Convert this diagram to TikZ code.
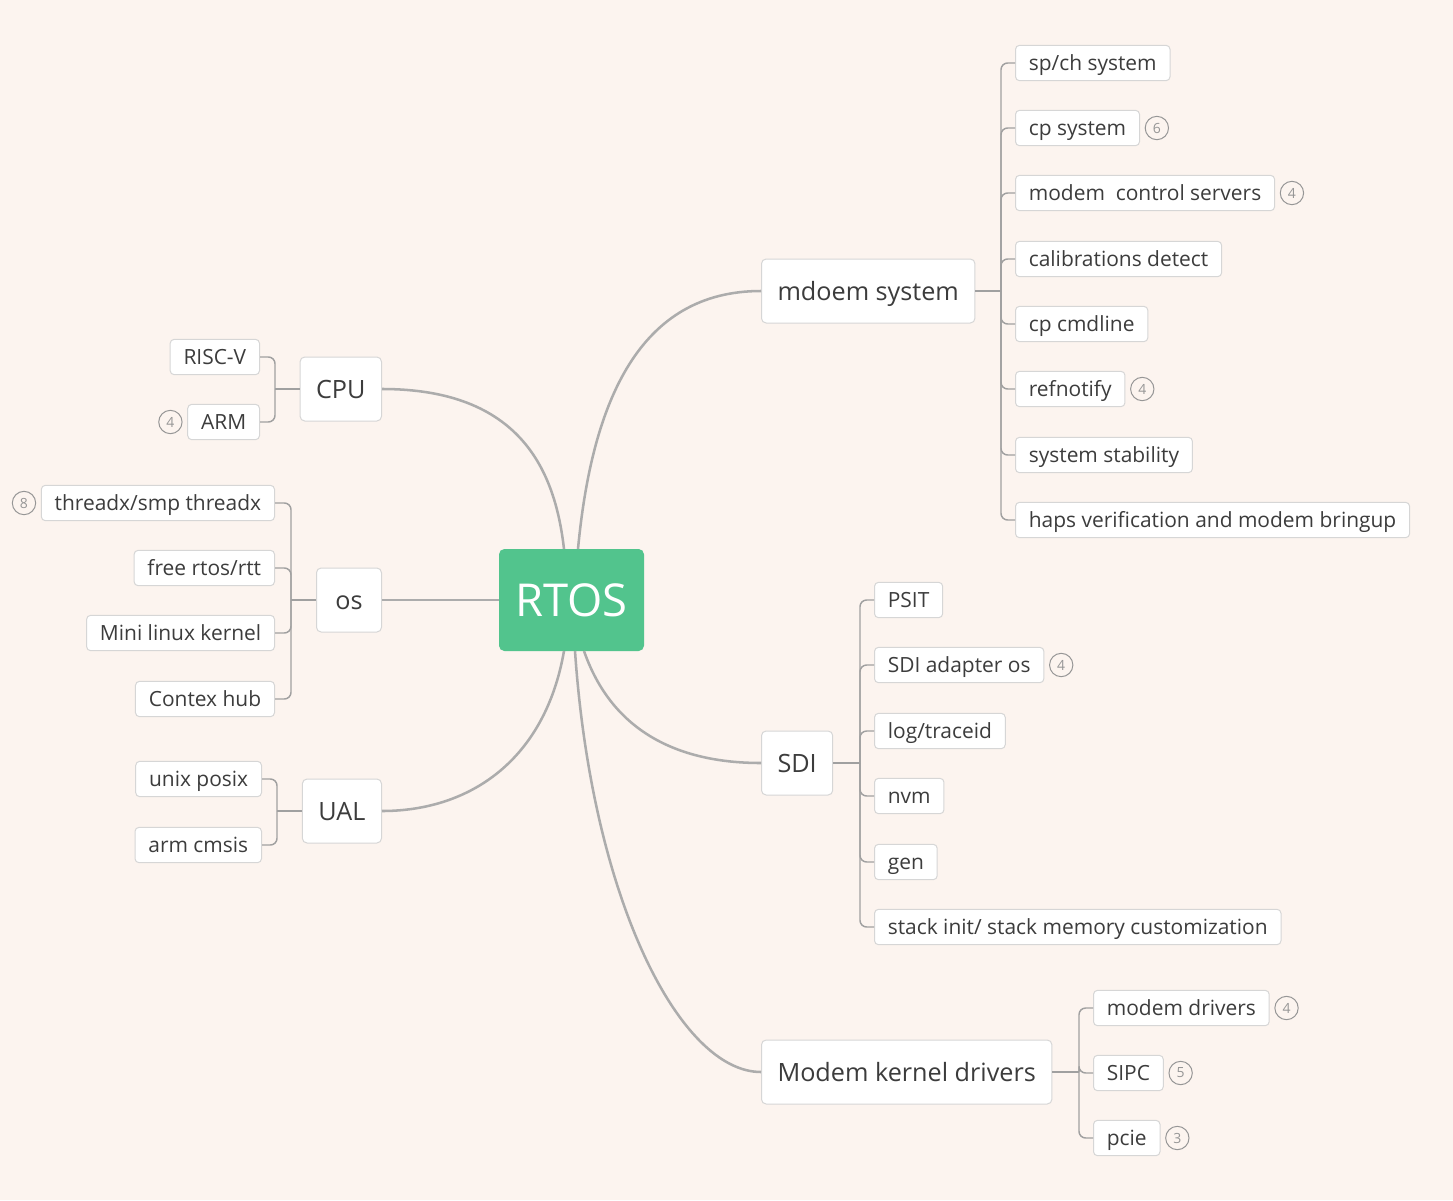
\documentclass[tikz,border=0pt]{standalone}
\usepackage{fontspec}
\setmainfont{Open Sans}
\definecolor{bg}{RGB}{252,244,239}
\definecolor{rootc}{RGB}{82,196,141}
\definecolor{txt}{RGB}{60,60,60}
\definecolor{nborder}{RGB}{214,214,214}
\definecolor{linec}{RGB}{172,172,172}
\definecolor{subc}{RGB}{160,160,160}
\definecolor{badgec}{RGB}{150,150,150}
\begin{document}
\begin{tikzpicture}[x=0.75pt,y=-0.75pt,
  leaf/.style={draw=nborder, fill=white, rounded corners=3pt, line width=0.75pt,
    minimum height=26.5pt, inner xsep=10pt, inner ysep=0pt,
    text height=10.6pt, text depth=0pt,
    font=\fontsize{15.7}{18}\selectfont, text=txt},
  branch/.style={draw=nborder, fill=white, rounded corners=3.5pt, line width=0.75pt,
    minimum height=48pt, inner xsep=12pt, inner ysep=0pt,
    text height=13.6pt, text depth=0pt,
    font=\fontsize{18.9}{23}\selectfont, text=txt},
  rootbox/.style={fill=rootc, rounded corners=4pt, minimum width=108.75pt,
    minimum height=76.5pt, font=\fontsize{34}{40}\selectfont, text=white},
  badge/.style={circle, draw=badgec, line width=0.75pt, minimum size=17.5pt,
    inner sep=0pt, font=\fontsize{10.5}{12}\selectfont, text=badgec},
  link/.style={draw=linec, line width=1.9pt},
  sub/.style={draw=subc, line width=1.1pt, rounded corners=5pt}
]
\fill[bg] (0,0) rectangle (1453,1200);
\useasboundingbox (0,0) rectangle (1453,1200);

% root
\node[rootbox] (rtos) at (571.5,600) {RTOS};

% branches
\node[branch, anchor=west] (mdoem) at (761,291) {mdoem system};
\node[branch, anchor=west] (sdi) at (761,763) {SDI};
\node[branch, anchor=west] (mkd) at (761,1072) {Modem kernel drivers};
\node[branch, anchor=east] (cpu) at (382,389) {CPU};
\node[branch, anchor=east, minimum width=48.75pt] (os) at (382,600) {os};
\node[branch, anchor=east] (ual) at (382,811) {UAL};

% main links
\draw[link] (cpu.east) .. controls (520,389) and (555,470) .. (564,549);
\draw[link] (mdoem.west) .. controls (640,291) and (592,400) .. (578,549);
\draw[link] (os.east) -- (rtos.west);
\draw[link] (ual.east) .. controls (470,811) and (545,760) .. (564,651);
\draw[link] (sdi.west) .. controls (690,763) and (615,740) .. (584,651);
\draw[link] (mkd.west) .. controls (680,1072) and (592,900) .. (575,651);

% mdoem children
\coordinate (mt) at (1001,291);
\node[leaf, anchor=west] (m1) at (1015,63) {sp/ch system};
\node[leaf, anchor=west] (m2) at (1015,128) {cp system};
\node[leaf, anchor=west] (m3) at (1015,193) {modem\ \ control servers};
\node[leaf, anchor=west] (m4) at (1015,259) {calibrations detect};
\node[leaf, anchor=west] (m5) at (1015,324) {cp cmdline};
\node[leaf, anchor=west] (m6) at (1015,389) {refnotify};
\node[leaf, anchor=west] (m7) at (1015,455) {system stability};
\node[leaf, anchor=west] (m8) at (1015,520) {haps verification and modem bringup};
\node[badge, anchor=west] (b2) at ([xshift=3.5pt]m2.east) {6};
\node[badge, anchor=west] (b3) at ([xshift=3.5pt]m3.east) {4};
\node[badge, anchor=west] (b6) at ([xshift=3.5pt]m6.east) {4};
\draw[sub] (mdoem.east) -- (mt);
\foreach \c in {m1,m2,m3,m4,m5,m6,m7,m8} \draw[sub] (mt) |- (\c.west);

% SDI children
\coordinate (st) at (860,763);
\node[leaf, anchor=west] (s1) at (874,600) {PSIT};
\node[leaf, anchor=west] (s2) at (874,665) {SDI adapter os};
\node[leaf, anchor=west] (s3) at (874,731) {log/traceid};
\node[leaf, anchor=west] (s4) at (874,796) {nvm};
\node[leaf, anchor=west] (s5) at (874,862) {gen};
\node[leaf, anchor=west] (s6) at (874,927) {stack init/ stack memory customization};
\node[badge, anchor=west] (sb2) at ([xshift=3.5pt]s2.east) {4};
\draw[sub] (sdi.east) -- (st);
\foreach \c in {s1,s2,s3,s4,s5,s6} \draw[sub] (st) |- (\c.west);

% Modem kernel drivers children
\coordinate (kt) at (1079,1072);
\node[leaf, anchor=west] (k1) at (1093,1008) {modem drivers};
\node[leaf, anchor=west] (k2) at (1093,1073) {SIPC};
\node[leaf, anchor=west] (k3) at (1093,1138) {pcie};
\node[badge, anchor=west] (kb1) at ([xshift=3.5pt]k1.east) {4};
\node[badge, anchor=west] (kb2) at ([xshift=3.5pt]k2.east) {5};
\node[badge, anchor=west] (kb3) at ([xshift=3.5pt]k3.east) {3};
\draw[sub] (mkd.east) -- (kt);
\foreach \c in {k1,k2,k3} \draw[sub] (kt) |- (\c.west);

% CPU children
\coordinate (ct) at (275,389);
\node[leaf, anchor=east] (c1) at (260,357) {RISC-V};
\node[leaf, anchor=east] (c2) at (260,422) {ARM};
\node[badge, anchor=east] (cb2) at ([xshift=-3.5pt]c2.west) {4};
\draw[sub] (cpu.west) -- (ct);
\foreach \c in {c1,c2} \draw[sub] (ct) |- (\c.east);

% os children
\coordinate (ot) at (291,600);
\node[leaf, anchor=east] (o1) at (275,503) {threadx/smp threadx};
\node[leaf, anchor=east] (o2) at (275,568) {free rtos/rtt};
\node[leaf, anchor=east] (o3) at (275,633) {Mini linux kernel};
\node[leaf, anchor=east] (o4) at (275,699) {Contex hub};
\node[badge, anchor=east] (ob1) at ([xshift=-3.5pt]o1.west) {8};
\draw[sub] (os.west) -- (ot);
\foreach \c in {o1,o2,o3,o4} \draw[sub] (ot) |- (\c.east);

% UAL children
\coordinate (ut) at (277,811);
\node[leaf, anchor=east] (u1) at (262,779) {unix posix};
\node[leaf, anchor=east] (u2) at (262,845) {arm cmsis};
\draw[sub] (ual.west) -- (ut);
\foreach \c in {u1,u2} \draw[sub] (ut) |- (\c.east);
\end{tikzpicture}
\end{document}
